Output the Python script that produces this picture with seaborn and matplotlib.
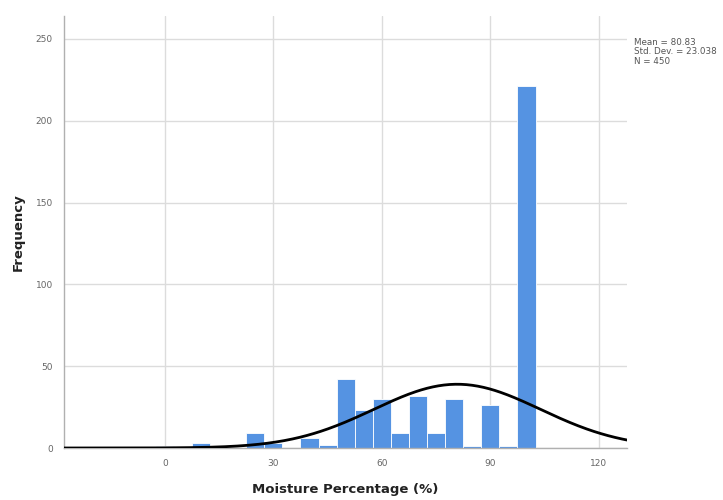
import numpy as np
import pandas as pd
import matplotlib
matplotlib.use("Agg")
import matplotlib.pyplot as plt
import seaborn as sns

# Data (bin centres, width 5)
bin_centers = [0, 10, 25, 30, 40, 45, 50, 55, 60, 65, 70, 75, 80, 85, 90, 95, 100]
counts = [1, 3, 9, 3, 6, 2, 42, 23, 30, 9, 32, 9, 30, 1, 26, 1, 221]
bin_width = 5
mean_val = 80.83
std_val = 23.038
n_val = 450
x_ticks = [0, 30, 60, 90, 120]
y_ticks = [0, 50, 100, 150, 200, 250]

sns.set_theme(style="white")
plt.rcParams['font.family'] = ['DejaVu Sans']

fig = plt.figure(figsize=(7.23, 5.0), dpi=100)
ax = fig.add_axes([64/723, 1-448/500, (627-64)/723, (448-16)/500])

df = pd.DataFrame({"x": bin_centers, "w": counts})
sns.histplot(data=df, x="x", weights="w", binwidth=bin_width, binrange=(-2.5, 102.5), ax=ax,
             color="#5593e2", alpha=1.0, edgecolor="white", linewidth=0.6, zorder=2)

xs = np.linspace(-28, 128, 400)
ys = n_val * bin_width * np.exp(-0.5 * ((xs - mean_val) / std_val) ** 2) / (std_val * np.sqrt(2 * np.pi))
sns.lineplot(x=xs, y=ys, ax=ax, color="black", linewidth=2.0, zorder=3)

ax.set_xlim(-27.9, 127.8)
ax.set_ylim(0, 264)
ax.set_xticks(x_ticks)
ax.set_yticks(y_ticks)
ax.grid(True, color="#dcdcdc", linewidth=1.0, zorder=0)
ax.set_axisbelow(True)
for s in ["top", "right"]:
    ax.spines[s].set_visible(False)
for s in ["left", "bottom"]:
    ax.spines[s].set_color("#b0b0b0")
    ax.spines[s].set_linewidth(1.0)
ax.tick_params(axis="both", length=0, labelsize=6.5, labelcolor="#666666")
ax.tick_params(axis="x", pad=8)
ax.tick_params(axis="y", pad=8)

ax.set_xlabel("Moisture Percentage (%)", fontsize=9.5, fontweight="bold", color="#222222")
ax.set_ylabel("Frequency", fontsize=9.5, fontweight="bold", color="#222222")
ax.xaxis.set_label_coords(0.5, -(490 - 448) / 432, transform=ax.transAxes)
ax.yaxis.set_label_coords(-(64 - 18) / 563, 0.5, transform=ax.transAxes)
ax.xaxis.label.set_va("center")
ax.yaxis.label.set_va("center")

fig.text(634/723, 1-38/500, f"Mean = {mean_val}\nStd. Dev. = {std_val}\nN = {n_val}",
         fontsize=6.3, color="#555555", va="top", ha="left", linespacing=1.05)

fig.savefig("out.png", dpi=100)
